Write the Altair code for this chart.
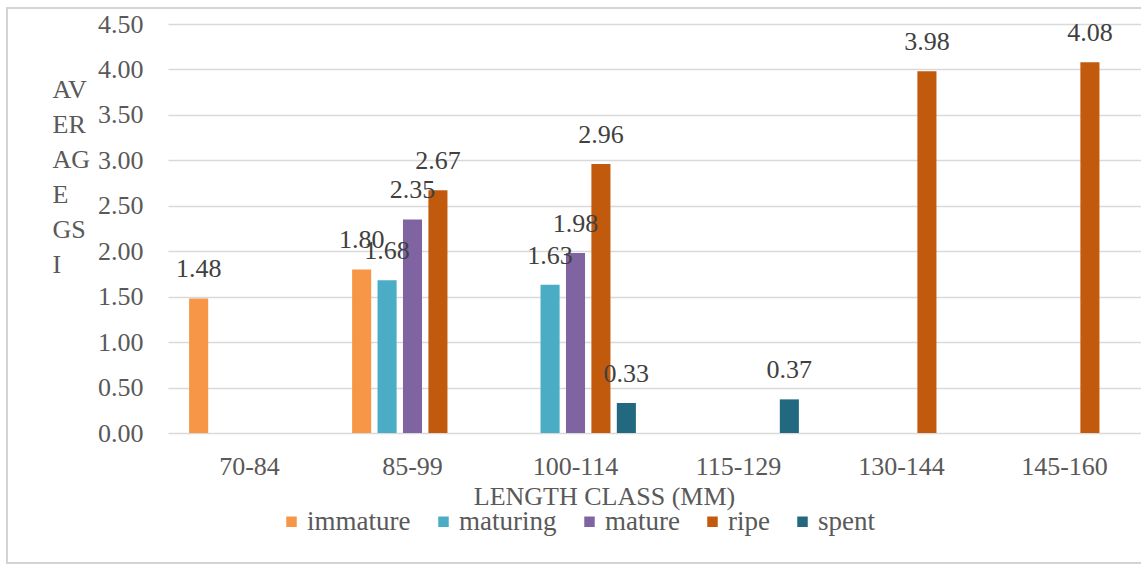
import altair as alt
import pandas as pd

# ---- data ----
categories = ["70-84", "85-99", "100-114", "115-129", "130-144", "145-160"]
stages = ["immature", "maturing", "mature", "ripe", "spent"]
stage_colors = ["#F79646", "#4BACC6", "#8064A2", "#C25A0E", "#22697F"]

bar_category = ["70-84", "85-99", "85-99", "85-99", "85-99",
                "100-114", "100-114", "100-114", "100-114",
                "115-129", "130-144", "145-160"]
bar_stage = ["immature", "immature", "maturing", "mature", "ripe",
             "maturing", "mature", "ripe", "spent",
             "spent", "ripe", "ripe"]
bar_value = [1.48, 1.80, 1.68, 2.35, 2.67,
             1.63, 1.98, 2.96, 0.33,
             0.37, 3.98, 4.08]
y_ticks = [0.0, 0.5, 1.0, 1.5, 2.0, 2.5, 3.0, 3.5, 4.0, 4.5]
y_title_lines = ["AV", "ER", "AG", "E", "GS", "I"]
x_title = "LENGTH CLASS (MM)"

df = pd.DataFrame({"cls": bar_category, "stage": bar_stage, "gsi": bar_value})

FONT = "'Liberation Serif', 'Times New Roman', 'DejaVu Serif', serif"
FS = 26
LABEL_COLOR = "#595959"
GRID = "#D9D9D9"

x_enc = alt.X(
    "cls:N",
    sort=categories,
    scale=alt.Scale(domain=categories, range=[0, 978], paddingInner=0.22, paddingOuter=0.11),
    axis=alt.Axis(
        title=x_title, labelAngle=0, ticks=False, domain=False, grid=False,
        labelFont=FONT, labelFontSize=FS, labelColor=LABEL_COLOR, labelPadding=20,
        titleFont=FONT, titleFontSize=FS, titleFontWeight="normal", titleColor=LABEL_COLOR,
        titleX=436, titleY=71, titleAlign="center", titleBaseline="alphabetic",
    ),
)
xo_enc = alt.XOffset(
    "stage:N", sort=stages,
    scale=alt.Scale(domain=stages, paddingInner=0.25, paddingOuter=0.125),
)
y_enc = alt.Y(
    "gsi:Q",
    scale=alt.Scale(domain=[0, 4.5], nice=False, zero=True),
    axis=alt.Axis(
        values=y_ticks, format=".2f", ticks=False, domain=False,
        grid=True, gridColor=GRID, gridWidth=1.5,
        labelFont=FONT, labelFontSize=FS, labelColor=LABEL_COLOR, labelPadding=25,
        title=y_title_lines, titleAngle=0, titleAlign="left", titleBaseline="alphabetic",
        titleX=-116, titleY=73, titleLineHeight=35,
        titleFont=FONT, titleFontSize=FS, titleFontWeight="normal", titleColor=LABEL_COLOR,
    ),
)
color_enc = alt.Color(
    "stage:N", sort=stages,
    scale=alt.Scale(domain=stages, range=stage_colors),
    legend=alt.Legend(
        title=None, orient="none", legendX=110, legendY=484, direction="horizontal",
        symbolType="square", symbolSize=110, symbolStrokeWidth=0,
        labelFont=FONT, labelFontSize=27, labelColor=LABEL_COLOR, labelOffset=2,
        columnPadding=19, padding=0,
    ),
)

bars = alt.Chart(df).mark_bar().encode(x=x_enc, xOffset=xo_enc, y=y_enc, color=color_enc)

labels = alt.Chart(df).mark_text(
    font=FONT, fontSize=FS, color="#404040", baseline="alphabetic", align="center", dy=-21
).encode(
    x=alt.X("cls:N", sort=categories),
    xOffset=alt.XOffset("stage:N", sort=stages),
    y=alt.Y("gsi:Q"),
    text=alt.Text("gsi:Q", format=".2f"),
)

frame = alt.Chart(pd.DataFrame({"k": [0]})).mark_rect(
    fillOpacity=0, stroke="#D4D4D4", strokeWidth=2
).encode(
    x=alt.value(-161), x2=alt.value(990), y=alt.value(-16), y2=alt.value(539)
)

chart = alt.layer(frame, bars, labels).properties(
    width=973, height=409,
    autosize=alt.AutoSizeParams(type="none"),
    padding={"left": 168, "top": 24, "right": 0, "bottom": 133},
    background="white",
).configure_view(stroke=None)

chart.save("out.html", embed_options={"renderer": "svg", "actions": False})
